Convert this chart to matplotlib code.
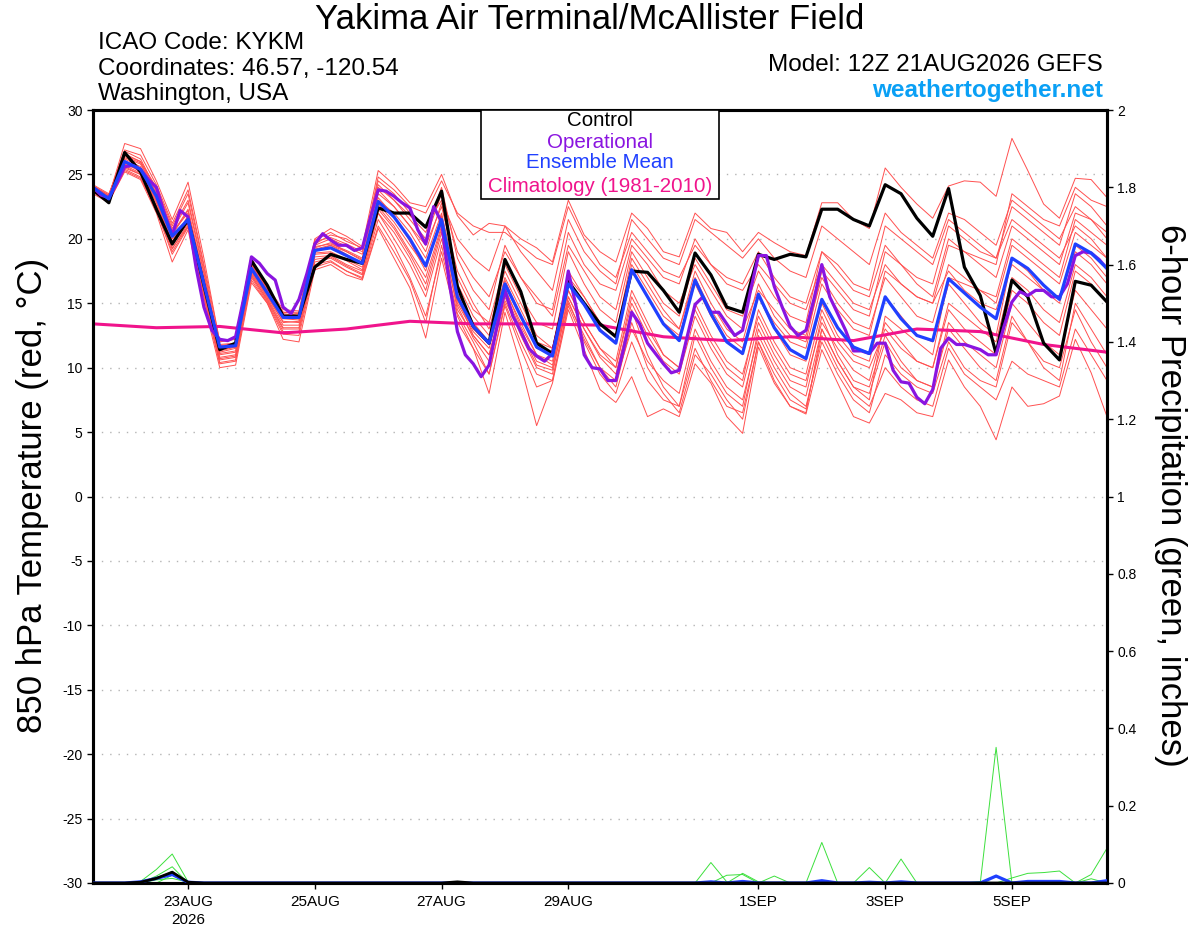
import numpy as np
import matplotlib
matplotlib.use('Agg')
import matplotlib.pyplot as plt
from matplotlib.patches import Rectangle

plt.rcParams['font.family'] = ['Liberation Sans', 'DejaVu Sans']
plt.rcParams['axes.unicode_minus'] = False

# 850 hPa temperature, 6-hourly from 12Z 21AUG (65 steps)
control = [23.8, 22.8, 26.7, 25.2, 22.3, 19.6, 21.5, 16.4, 11.4, 11.9, 18.3, 16.4, 14.0, 14.0, 17.8, 18.8,
           18.4, 18.1, 22.4, 22.0, 22.0, 20.9, 23.7, 16.3, 13.2, 11.9, 18.4, 15.9, 11.9, 11.1, 16.7, 15.0,
           13.4, 12.4, 17.5, 17.4, 16.0, 14.3, 18.9, 17.2, 14.7, 14.3, 18.8, 18.4, 18.8, 18.6, 22.3, 22.3,
           21.5, 21.0, 24.2, 23.5, 21.6, 20.2, 23.9, 17.8, 15.6, 11.1, 16.8, 15.5, 11.9, 10.6, 16.7, 16.4, 15.1]

ens_mean = [24.0, 23.1, 26.0, 25.4, 23.3, 20.2, 21.5, 16.5, 11.6, 11.7, 17.7, 15.8, 13.9, 13.9, 19.1, 19.3,
            18.7, 18.1, 22.9, 21.7, 20.0, 17.9, 21.5, 15.5, 13.2, 11.9, 16.5, 14.0, 11.6, 10.9, 16.5, 14.9,
            12.9, 11.9, 17.6, 15.5, 13.4, 12.1, 16.8, 14.2, 12.0, 11.1, 15.7, 13.1, 11.4, 10.7, 15.3, 13.1,
            11.6, 11.1, 15.5, 13.8, 12.5, 12.1, 16.9, 15.8, 14.7, 13.8, 18.5, 17.7, 16.4, 15.3, 19.6, 18.9, 17.7]

# operational run, 3-hourly (129 steps)
operational = [24.0, 23.4, 23.2, 24.3, 25.6, 25.7, 25.4, 24.6, 24.0, 22.0, 20.3, 22.2, 21.7, 17.8, 14.7, 12.9,
               12.2, 12.1, 12.4, 15.3, 18.6, 18.1, 17.3, 16.8, 14.7, 14.2, 15.3, 17.3, 19.6, 20.4, 19.9, 19.5,
               19.5, 19.1, 19.3, 21.6, 23.8, 23.7, 23.3, 22.8, 22.4, 20.7, 19.6, 22.5, 21.3, 16.5, 12.8, 11.0,
               10.3, 9.3, 10.2, 13.2, 16.0, 14.0, 12.8, 11.5, 10.9, 10.5, 11.1, 13.7, 17.5, 14.7, 11.0, 10.0,
               9.9, 9.0, 9.0, 11.5, 14.3, 13.4, 11.9, 11.1, 10.3, 9.6, 9.8, 12.4, 14.9, 15.5, 14.3, 14.3,
               13.4, 12.5, 12.9, 16.0, 18.7, 18.7, 16.3, 14.7, 13.2, 12.5, 12.9, 15.3, 18.0, 15.5, 14.2, 12.9,
               11.3, 11.3, 11.1, 11.9, 11.9, 9.8, 8.9, 8.8, 7.7, 7.2, 8.3, 11.5, 12.3, 11.8, 11.8, 11.6,
               11.4, 11.0, 11.0, 13.2, 15.1, 15.9, 15.6, 16.0, 16.0, 15.5, 15.5, 16.5, 18.7, 19.0, 18.9, 18.4, 17.7]

# climatology, daily at 12Z
climatology = [13.4, 13.1, 13.2, 12.7, 13.0, 13.6, 13.4, 13.4, 13.3, 12.4, 12.1, 12.4, 12.1, 13.0, 12.8, 11.8, 11.2]

# ensemble members (red)
members = [
    [23.9, 23.3, 27.4, 27.0, 24.5, 21.5, 24.4, 18.5, 12.0, 12.3, 18.5, 16.3, 14.5, 14.4, 20.0, 20.8, 20.2, 19.4,
     25.3, 24.2, 22.8, 22.5, 25.0, 21.8, 20.3, 21.2, 21.0, 20.0, 19.3, 18.2, 23.0, 20.3, 19.0, 18.2,
     22.0, 20.8, 19.0, 18.6, 22.0, 20.8, 20.5, 19.0, 20.5, 19.7, 19.0, 18.7, 22.8, 22.8, 21.5, 20.8,
     25.5, 24.0, 22.7, 21.6, 24.1, 24.5, 24.4, 23.3, 27.8, 25.3, 22.7, 21.6, 24.7, 24.6, 23.2],
    [23.6, 22.9, 25.2, 24.6, 22.0, 18.2, 20.7, 15.0, 10.0, 10.2, 16.6, 15.0, 12.2, 12.0, 17.6, 18.0, 17.2, 16.8,
     20.8, 18.5, 16.2, 12.3, 18.5, 13.5, 11.5, 8.0, 14.3, 10.2, 5.5, 8.8, 14.5, 11.4, 8.3, 7.3,
     9.3, 6.2, 6.8, 6.2, 10.3, 8.8, 6.2, 4.9, 11.6, 8.8, 7.0, 6.4, 11.4, 8.8, 6.2, 5.7,
     8.0, 7.5, 6.5, 6.2, 10.6, 8.5, 7.0, 4.4, 8.5, 7.0, 7.2, 7.8, 12.2, 9.6, 6.2],
    [24.1, 23.4, 26.8, 26.2, 23.8, 20.8, 23.0, 17.5, 11.2, 11.5, 18.0, 16.0, 14.0, 13.8, 19.5, 20.0, 19.4, 18.8,
     24.0, 23.0, 21.8, 20.5, 24.0, 18.5, 16.0, 14.5, 19.5, 17.0, 15.0, 14.5, 20.5, 18.0, 16.5, 16.0,
     20.0, 18.5, 17.0, 16.5, 20.0, 18.0, 17.0, 16.5, 19.0, 17.0, 15.5, 15.0, 19.0, 17.5, 16.0, 15.5,
     19.5, 18.0, 17.0, 16.5, 21.0, 20.0, 19.0, 18.5, 22.5, 21.5, 20.5, 19.5, 23.5, 22.5, 21.0],
    [23.8, 23.0, 25.5, 25.0, 22.5, 19.3, 21.0, 15.8, 10.6, 10.8, 17.2, 15.2, 13.0, 13.0, 18.2, 18.5, 17.8, 17.2,
     22.0, 20.5, 18.5, 16.0, 20.5, 14.5, 12.5, 11.0, 15.8, 13.0, 10.5, 10.0, 16.0, 13.5, 11.5, 10.5,
     16.0, 13.5, 11.0, 10.0, 15.0, 12.5, 10.5, 9.5, 14.0, 11.5, 9.5, 9.0, 13.5, 11.5, 9.8, 9.0,
     13.5, 12.0, 10.5, 10.0, 14.5, 13.0, 12.0, 11.0, 16.0, 15.0, 13.5, 12.5, 17.5, 16.5, 15.0],
    [24.0, 23.2, 26.3, 25.8, 23.5, 20.5, 22.0, 16.8, 11.8, 11.9, 18.2, 16.2, 14.2, 14.0, 19.0, 19.5, 19.0, 18.3,
     23.0, 22.0, 20.5, 18.5, 22.0, 16.5, 14.0, 12.5, 17.0, 14.5, 12.0, 11.5, 17.5, 15.5, 13.5, 12.5,
     18.5, 16.5, 14.5, 13.0, 17.5, 15.0, 13.0, 12.0, 16.5, 14.0, 12.5, 12.0, 17.5, 16.0, 14.5, 14.0,
     19.0, 18.0, 16.5, 15.5, 20.0, 19.0, 18.0, 17.0, 21.0, 20.0, 19.0, 18.0, 22.0, 21.5, 20.0],
    [23.7, 23.0, 25.8, 25.3, 23.0, 19.8, 21.8, 16.2, 11.0, 11.2, 17.5, 15.6, 13.5, 13.6, 18.8, 18.9, 18.3, 17.6,
     22.5, 21.0, 19.0, 17.0, 21.0, 15.0, 12.8, 11.5, 16.0, 13.5, 11.0, 10.2, 15.5, 13.0, 10.8, 9.5,
     14.5, 11.0, 8.5, 7.0, 12.5, 10.0, 8.0, 7.0, 13.0, 10.5, 8.5, 7.8, 13.0, 10.5, 8.5, 7.5,
     14.0, 13.0, 12.0, 11.0, 17.0, 16.5, 16.0, 15.5, 20.0, 19.0, 18.0, 17.0, 21.5, 20.5, 19.5],
    [24.2, 23.5, 26.5, 26.0, 24.0, 21.0, 23.5, 17.8, 11.5, 11.8, 18.3, 16.0, 14.0, 14.2, 19.6, 20.3, 20.0, 19.2,
     24.5, 23.5, 22.0, 21.0, 23.0, 20.0, 18.5, 17.5, 21.0, 19.0, 17.5, 16.0, 21.5, 19.0, 17.5, 16.5,
     21.5, 20.0, 18.5, 18.0, 21.5, 20.5, 19.5, 18.5, 20.0, 18.5, 17.5, 17.0, 21.0, 20.0, 19.0, 18.0,
     22.0, 20.5, 19.5, 18.5, 22.0, 21.5, 20.5, 19.5, 23.0, 22.0, 21.0, 20.0, 22.5, 21.5, 20.5],
    [23.5, 22.8, 25.4, 24.8, 22.2, 18.8, 20.9, 15.4, 10.3, 10.5, 16.8, 15.0, 12.6, 12.5, 17.8, 18.2, 17.5, 17.0,
     21.5, 19.5, 17.0, 14.0, 19.0, 14.0, 11.5, 9.5, 15.0, 12.0, 9.5, 9.0, 15.0, 12.5, 10.0, 9.0,
     13.0, 10.5, 9.0, 8.0, 13.0, 10.5, 8.5, 7.5, 12.5, 10.0, 8.0, 7.0, 12.0, 9.5, 7.5, 6.5,
     11.0, 9.5, 8.5, 8.0, 12.0, 10.0, 9.0, 8.5, 13.5, 12.0, 10.0, 9.0, 15.0, 13.0, 11.0],
    [23.9, 23.1, 26.0, 25.5, 23.2, 20.0, 21.5, 16.4, 11.4, 11.6, 17.6, 15.7, 13.8, 13.7, 19.2, 19.5, 18.8, 18.0,
     23.5, 22.5, 21.0, 19.5, 22.5, 17.5, 15.0, 13.0, 17.5, 15.0, 12.5, 11.5, 17.0, 15.5, 13.5, 12.5,
     18.0, 16.0, 14.0, 13.0, 17.0, 14.5, 12.5, 11.5, 15.5, 13.0, 11.0, 10.5, 15.0, 12.5, 11.0, 10.5,
     15.5, 14.0, 12.5, 12.0, 16.5, 15.0, 13.5, 12.5, 18.5, 17.5, 16.0, 15.0, 19.5, 18.5, 17.0],
    [24.0, 23.3, 26.2, 25.6, 23.4, 20.3, 22.2, 16.9, 11.7, 11.9, 17.9, 15.9, 14.1, 14.0, 19.3, 19.7, 19.0, 18.4,
     23.2, 21.8, 19.8, 17.5, 21.8, 15.8, 13.5, 12.0, 16.8, 14.0, 11.5, 11.0, 16.5, 15.0, 13.0, 12.0,
     17.5, 15.5, 13.5, 12.5, 16.5, 14.0, 12.0, 11.0, 15.5, 13.5, 12.0, 11.5, 16.5, 14.5, 13.0, 12.5,
     17.5, 16.5, 15.5, 15.0, 19.5, 19.0, 18.5, 18.0, 23.5, 22.5, 21.5, 21.0, 24.0, 23.0, 22.5],
    [23.8, 23.1, 25.7, 25.1, 22.8, 19.5, 21.3, 16.0, 10.8, 11.0, 17.3, 15.4, 13.3, 13.3, 18.6, 18.7, 18.0, 17.5,
     22.3, 20.8, 18.8, 16.5, 20.8, 15.2, 13.0, 11.8, 16.2, 13.2, 11.0, 10.5, 16.0, 13.5, 11.5, 10.0,
     15.0, 12.5, 10.5, 9.5, 14.0, 11.5, 9.5, 8.5, 13.5, 11.0, 9.0, 8.5, 14.0, 11.0, 9.0, 8.5,
     12.5, 10.5, 9.0, 8.5, 13.0, 11.5, 10.0, 9.0, 14.0, 12.0, 10.5, 10.0, 14.5, 12.0, 10.0],
    [24.1, 23.3, 26.6, 26.0, 23.8, 20.6, 22.8, 17.3, 11.3, 11.6, 18.1, 16.1, 14.3, 14.2, 19.8, 20.1, 19.6, 19.0,
     24.8, 23.8, 22.5, 22.0, 24.5, 22.0, 21.0, 20.5, 20.5, 19.5, 18.5, 18.0, 22.5, 20.0, 18.0, 17.0,
     20.5, 19.0, 17.5, 17.0, 19.5, 18.0, 16.5, 16.0, 18.0, 16.5, 15.0, 14.5, 18.0, 16.5, 15.0, 14.5,
     18.0, 16.5, 15.5, 15.0, 17.5, 16.0, 15.0, 14.5, 18.0, 17.0, 16.0, 15.5, 19.0, 18.0, 16.5],
    [23.7, 22.9, 25.3, 24.7, 22.3, 19.0, 21.0, 15.5, 10.4, 10.6, 17.0, 15.1, 12.8, 12.8, 18.0, 18.3, 17.5, 16.9,
     21.0, 19.0, 16.8, 13.5, 19.5, 14.2, 12.0, 9.5, 14.8, 11.5, 8.5, 9.0, 14.8, 12.0, 9.5, 8.0,
     12.0, 9.0, 7.5, 7.0, 11.5, 9.0, 7.0, 6.5, 12.0, 9.5, 7.5, 6.8, 12.5, 10.0, 8.0, 7.0,
     10.0, 8.5, 7.5, 7.0, 11.5, 9.5, 8.5, 7.5, 10.5, 9.5, 9.0, 8.5, 13.0, 11.0, 9.0],
    [24.0, 23.2, 26.4, 25.9, 23.6, 20.4, 22.3, 17.0, 11.6, 11.7, 18.0, 16.0, 14.0, 13.9, 19.4, 19.6, 19.1, 18.5,
     23.8, 22.5, 21.0, 19.0, 22.8, 17.0, 14.5, 13.5, 18.0, 15.5, 13.5, 13.0, 19.0, 16.5, 14.5, 13.5,
     19.0, 17.0, 15.0, 14.0, 18.5, 16.5, 14.5, 14.0, 17.5, 15.5, 14.0, 13.5, 19.0, 18.0, 16.5, 16.0,
     21.0, 20.0, 19.0, 18.0, 21.5, 20.5, 19.5, 18.5, 21.5, 20.5, 19.5, 18.5, 21.0, 20.0, 18.5],
    [23.9, 23.0, 25.9, 25.2, 22.9, 19.6, 21.4, 16.2, 11.1, 11.3, 17.4, 15.5, 13.6, 13.5, 18.9, 19.0, 18.4, 17.8,
     22.7, 21.3, 19.5, 17.8, 21.3, 15.5, 12.5, 11.0, 15.5, 12.5, 10.0, 9.5, 15.5, 13.0, 11.0, 10.0,
     15.5, 13.0, 11.0, 10.0, 14.5, 12.0, 10.0, 9.0, 14.5, 12.0, 10.0, 9.5, 14.5, 12.0, 10.5, 10.0,
     13.0, 11.5, 10.5, 10.0, 15.0, 14.0, 13.0, 12.0, 17.0, 16.0, 14.5, 13.5, 18.0, 17.0, 15.5],
    [24.1, 23.4, 26.9, 26.5, 24.2, 21.2, 23.8, 18.0, 12.0, 12.2, 18.4, 16.3, 14.3, 14.3, 19.9, 20.5, 19.8, 19.3,
     24.2, 23.0, 21.5, 20.0, 23.5, 19.0, 17.0, 15.5, 19.0, 17.0, 15.5, 14.0, 19.5, 17.5, 15.5, 14.5,
     19.5, 18.0, 16.0, 15.0, 18.0, 16.0, 14.0, 13.0, 16.0, 14.5, 13.0, 12.5, 17.0, 15.0, 13.5, 13.0,
     17.0, 15.5, 14.0, 13.5, 18.0, 17.0, 16.0, 15.0, 19.5, 18.5, 17.5, 16.5, 20.5, 19.5, 18.5],
    [23.6, 22.9, 25.6, 25.0, 22.6, 19.2, 21.2, 15.7, 10.7, 10.9, 17.1, 15.3, 13.1, 13.1, 18.4, 18.6, 17.9, 17.3,
     22.0, 20.0, 18.0, 15.5, 20.0, 14.8, 12.3, 10.5, 15.2, 12.8, 10.2, 9.8, 15.2, 12.2, 10.0, 8.5,
     13.5, 10.0, 8.0, 6.5, 11.0, 9.5, 7.5, 6.0, 12.0, 9.0, 7.0, 6.5, 13.0, 10.5, 8.5, 8.0,
     12.0, 10.0, 9.0, 8.5, 13.5, 12.0, 11.0, 10.0, 15.0, 13.5, 12.0, 11.0, 16.0, 14.5, 13.0],
]

# 6-hour precipitation (inches)
precip_members = [
    [0, 0, 0, .004, .035, .075, .003, 0, 0, 0, 0, 0, 0, 0, 0, 0,
     0, 0, 0, 0, 0, 0, 0, 0, 0, 0, 0, 0, 0, 0, 0, 0,
     0, 0, 0, 0, 0, 0, 0, 0, 0, 0, 0, 0, 0, 0, .105, 0,
     0, 0, 0, 0, 0, 0, 0, 0, 0, .351, 0, 0, 0, 0, 0, 0, 0],
    [0, 0, 0, 0, .018, .042, 0, 0, 0, 0, 0, 0, 0, 0, 0, 0,
     0, 0, 0, 0, 0, 0, 0, 0, 0, 0, 0, 0, 0, 0, 0, 0,
     0, 0, 0, 0, 0, 0, 0, .053, .003, 0, 0, 0, 0, 0, 0, 0,
     0, .040, 0, .062, 0, 0, 0, 0, 0, 0, 0, 0, 0, 0, 0, 0, 0],
    [0, 0, 0, 0, .012, .030, 0, 0, 0, 0, 0, 0, 0, 0, 0, 0,
     0, 0, 0, 0, 0, 0, 0, 0, 0, 0, 0, 0, 0, 0, 0, 0,
     0, 0, 0, 0, 0, 0, 0, 0, .020, .022, 0, .018, 0, 0, 0, 0,
     0, 0, 0, 0, 0, 0, 0, 0, 0, 0, .013, .025, .027, .031, 0, .022, .090],
    [0, 0, 0, 0, 0, .020, 0, 0, 0, 0, 0, 0, 0, 0, 0, 0,
     0, 0, 0, 0, 0, 0, 0, 0, 0, 0, 0, 0, 0, 0, 0, 0,
     0, 0, 0, 0, 0, 0, 0, 0, 0, .025, .003, 0, 0, 0, 0, 0,
     0, 0, 0, 0, 0, 0, 0, 0, .004, 0, 0, 0, 0, 0, 0, .011, 0],
    [0, 0, 0, 0, .008, .012, .002, 0, 0, 0, 0, 0, 0, 0, 0, 0,
     0, 0, 0, 0, 0, 0, 0, 0, 0, 0, 0, 0, 0, 0, 0, 0,
     0, 0, 0, 0, 0, 0, 0, 0, 0, 0, 0, 0, 0, 0, 0, 0,
     0, 0, 0, 0, 0, 0, 0, 0, 0, 0, 0, 0, 0, 0, 0, 0, 0],
]
precip_control = [0, 0, 0, .002, .012, .028, .002, 0, 0, 0, 0, 0, 0, 0, 0, 0,
                  0, 0, 0, 0, 0, 0, 0, .003, 0, 0, 0, 0, 0, 0, 0, 0,
                  0, 0, 0, 0, 0, 0, 0, 0, 0, 0, 0, 0, 0, 0, 0, 0,
                  0, 0, 0, 0, 0, 0, 0, 0, 0, 0, 0, 0, 0, 0, 0, 0, 0]
precip_mean = [0, 0, 0, .003, .012, .022, .002, 0, 0, 0, 0, 0, 0, 0, 0, 0,
               0, 0, 0, 0, 0, 0, 0, 0, 0, 0, 0, 0, 0, 0, 0, 0,
               0, 0, 0, 0, 0, 0, 0, .003, 0, .004, 0, 0, 0, 0, .006, 0,
               0, .002, 0, .003, 0, 0, 0, 0, 0, .018, 0, .004, .004, .004, 0, 0, .006]

tick_days = [1.5, 3.5, 5.5, 7.5, 10.5, 12.5, 14.5]
tick_labels = ['23AUG\n2026', '25AUG', '27AUG', '29AUG', '1SEP', '3SEP', '5SEP']

for m in members + precip_members:
    assert len(m) == 65
assert len(operational) == 129

# x in days since 12Z 21AUG
t6 = np.arange(65) * 0.25
t3 = np.arange(129) * 0.125
t24 = np.arange(17) * 1.0

fig = plt.figure(figsize=(12, 9.27), dpi=100)
ax = fig.add_axes([93 / 1200, 44 / 927, 1014 / 1200, 773 / 927])

for m in members:
    ax.plot(t6, m, color='#ff5050', lw=0.7, zorder=2)
ax.plot(t24, climatology, color='#f0148c', lw=2.2, zorder=3)
ax.plot(t6, control, color='black', lw=2.3, zorder=4)
ax.plot(t3, operational, color='#8a14e0', lw=2.3, zorder=5)
ax.plot(t6, ens_mean, color='#2040ff', lw=2.3, zorder=6)

ax.set_xlim(0, 16)
ax.set_ylim(-30, 30)
ax.set_yticks(np.arange(-30, 31, 5))
for yv in range(-25, 30, 5):
    ax.axhline(yv, color='#b4b4b4', lw=1.0, ls=(0, (1, 5)), zorder=1)
ax.set_xticks(tick_days)
ax.set_xticklabels(tick_labels, fontsize=11, linespacing=1.3)
ax.tick_params(axis='both', direction='out', length=4, width=1, labelsize=10)
ax.tick_params(axis='x', pad=5, labelsize=11)
for s in ax.spines.values():
    s.set_linewidth(2.2)

ax2 = ax.twinx()
for p in precip_members:
    ax2.plot(t6, p, color='#3ce03c', lw=0.7, zorder=2)
ax2.plot(t6, precip_mean, color='#2040ff', lw=2.3, zorder=3)
ax2.plot(t6, precip_control, color='black', lw=2.0, zorder=4)
ax2.set_ylim(0, 2)
ax2.set_xlim(0, 16)
ax2.set_yticks(np.arange(0, 2.01, 0.2))
ax2.set_yticklabels(['0', '0.2', '0.4', '0.6', '0.8', '1', '1.2', '1.4', '1.6', '1.8', '2'])
ax2.tick_params(axis='y', direction='out', length=4, width=1, labelsize=10)
for s in ax2.spines.values():
    s.set_linewidth(2.2)

# header texts
fig.text(590 / 1200, 1 - 29 / 927, 'Yakima Air Terminal/McAllister Field', fontsize=25,
         ha='center', va='baseline')
fig.text(98 / 1200, 1 - 49 / 927, 'ICAO Code: KYKM', fontsize=17.5, va='baseline')
fig.text(98 / 1200, 1 - 75 / 927, 'Coordinates: 46.57, -120.54', fontsize=17.5, va='baseline')
fig.text(98 / 1200, 1 - 100 / 927, 'Washington, USA', fontsize=17.5, va='baseline')
fig.text(1103 / 1200, 1 - 71 / 927, 'Model: 12Z 21AUG2026 GEFS', fontsize=17.5,
         ha='right', va='baseline')
fig.text(1103 / 1200, 1 - 97 / 927, 'weathertogether.net', fontsize=17.5, fontweight='bold',
         color='#0aa0f5', ha='right', va='baseline')

# axis titles
fig.text(33 / 1200, 1 - 495 / 927, '850 hPa Temperature (red, °C)', fontsize=25,
         rotation=90, ha='center', va='center')
fig.text(1170 / 1200, 1 - 495 / 927, '6-hour Precipitation (green, inches)', fontsize=25,
         rotation=270, ha='center', va='center')

# legend box
fig.patches.append(Rectangle((481 / 1200, 1 - 199 / 927), 238 / 1200, 89 / 927,
                             transform=fig.transFigure, facecolor='white', edgecolor='black',
                             lw=1.2, zorder=10))
legend_items = [('Control', 'black', 121), ('Operational', '#8a14e0', 142),
                ('Ensemble Mean', '#2040ff', 163), ('Climatology (1981-2010)', '#f0148c', 186)]
for txt, col, yp in legend_items:
    fig.text(600 / 1200, 1 - yp / 927, txt, fontsize=14.8, color=col, ha='center', va='center',
             zorder=11)

fig.savefig('out.png', dpi=100)
